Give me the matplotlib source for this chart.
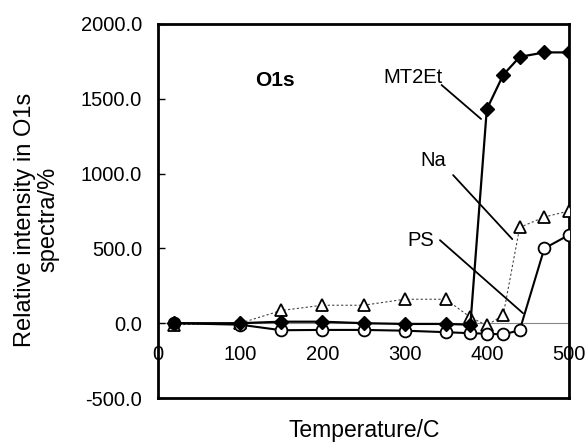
import numpy as np
import matplotlib
matplotlib.use("Agg")
import matplotlib.pyplot as plt

plt.rcParams['font.family'] = ['Liberation Sans', 'DejaVu Sans']

# temperatures (C)
temp = [20, 100, 150, 200, 250, 300, 350, 380, 400, 420, 440, 470, 500]

# relative intensity in O1s spectra (%)
mt2et = [0, 0, 10, 10, 0, -5, -5, -10, 1430, 1660, 1780, 1810, 1810]
na = [-10, 0, 85, 120, 120, 160, 160, 40, -15, 55, 640, 710, 750]
ps = [0, -10, -47, -45, -45, -50, -60, -67, -70, -75, -47, 500, 590]

yticks = [-500, 0, 500, 1000, 1500, 2000]
xticks = [0, 100, 200, 300, 400, 500]

fig = plt.figure(figsize=(5.88, 4.44), dpi=100)
ax = fig.add_axes([0.2687, 0.1036, 0.699, 0.8424])

ax.plot(temp, na, color='#444444', lw=0.8, ls=(0, (2, 2)),
        marker='^', ms=8.5, mfc='white', mec='black', mew=1.3, zorder=3)
ax.plot(temp, ps, color='black', lw=1.5,
        marker='o', ms=8.5, mfc='white', mec='black', mew=1.3, zorder=4)
ax.plot(temp, mt2et, color='black', lw=1.6,
        marker='D', ms=7, mfc='black', mec='black', zorder=5)

ax.set_xlim(0, 500)
ax.set_ylim(-500, 2000)
ax.set_yticks(yticks)
ax.set_yticklabels([f"{v:.1f}" for v in yticks], fontsize=14.5)
ax.tick_params(axis='y', direction='in', length=5, width=1, pad=11.5)
ax.set_xticks([])

for s in ax.spines.values():
    s.set_linewidth(2)

# x axis drawn along the zero line
sec = ax.secondary_xaxis(0.2)
sec.set_xticks(xticks)
sec.set_xticklabels([str(v) for v in xticks], fontsize=14.5)
sec.tick_params(length=0, pad=16)
sec.spines['bottom'].set_color('#888888')
sec.spines['bottom'].set_linewidth(0.8)

fig.text(0.062, 0.505, "Relative intensity in O1s\nspectra/%", fontsize=17,
         rotation=90, ha='center', va='center', linespacing=1.1)
fig.text(0.619, 0.03, "Temperature/C", fontsize=16.5, ha='center', va='center')

ax.text(142, 1625, "O1s", fontsize=15, fontweight='bold', ha='center', va='center')
ax.text(310, 1645, "MT2Et", fontsize=14.5, ha='center', va='center')
ax.text(335, 1090, "Na", fontsize=14.5, ha='center', va='center')
ax.text(320, 555, "PS", fontsize=14.5, ha='center', va='center')

leader = dict(arrowstyle='-', lw=1.3, color='black', shrinkA=0, shrinkB=0)
ax.annotate('', xy=(393, 1365), xytext=(345, 1592), arrowprops=leader)
ax.annotate('', xy=(431, 562), xytext=(359, 990), arrowprops=leader)
ax.annotate('', xy=(444, 67), xytext=(343, 555), arrowprops=leader)

fig.savefig("out.png", dpi=100)
